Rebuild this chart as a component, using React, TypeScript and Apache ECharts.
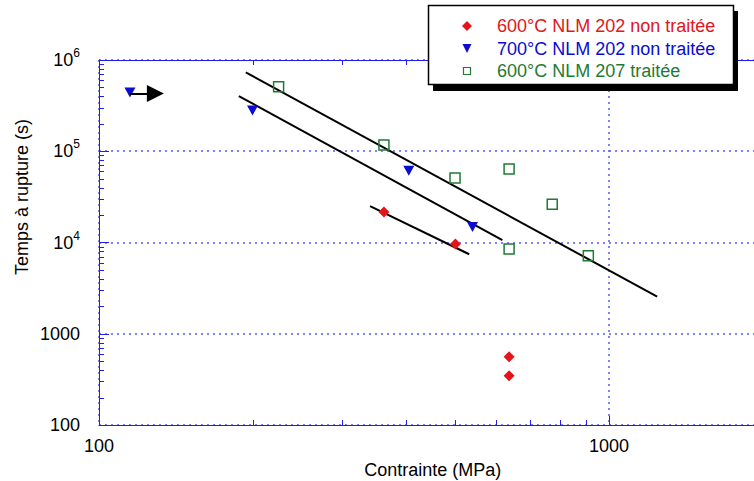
import React, { useEffect, useRef } from "react";
import * as echarts from "echarts";

// ---- data ----
const seriesNames = [
  "600°C NLM 202 non traitée",
  "700°C NLM 202 non traitée",
  "600°C NLM 207 traitée",
];
// [contrainte MPa, temps à rupture s]
const red600NLM202 = [
  [362, 21600],
  [500, 9600],
  [637, 560],
  [637, 347],
];
const blue700NLM202 = [
  [115, 440000],
  [200, 280000],
  [405, 61200],
  [540, 14800],
];
const green600NLM207 = [
  [225, 510000],
  [362, 117000],
  [499, 50900],
  [637, 63900],
  [637, 8490],
  [774, 26200],
  [911, 7170],
];
const fitGreen = [
  [194, 733000],
  [1243, 2550],
];
const fitBlue = [
  [188, 403000],
  [618, 10650],
];
const fitRed = [
  [340, 25100],
  [532, 7430],
];
const arrowSeg = [
  [115, 430000],
  [129, 430000],
];
const xMinorTicks = [200, 300, 400, 500, 600, 700, 800, 900];
const yMinorTicks = [
  200, 300, 400, 500, 600, 700, 800, 900,
  2000, 3000, 4000, 5000, 6000, 7000, 8000, 9000,
  20000, 30000, 40000, 50000, 60000, 70000, 80000, 90000,
  200000, 300000, 400000, 500000, 600000, 700000, 800000, 900000,
];
const X_MIN = 100;
const X_MAX = 2000;
const Y_MIN = 100;
const Y_MAX = 1000000;

const FONT = "Liberation Sans, Arial, sans-serif";
const AXIS = "#1e1ef0";
const GRIDC = "#5a5af5";
const RED = "#e3151a";
const BLUE = "#0b0bd2";
const GREEN = "#1f7a33";
const legendColors = [RED, BLUE, GREEN];

export default function App() {
  const ref = useRef<HTMLDivElement>(null);

  useEffect(() => {
    document.body.style.margin = "0";
    if (!ref.current) return;
    const chart = echarts.init(ref.current, undefined, { renderer: "svg" });

    const minorX = {
      type: "custom",
      coordinateSystem: "cartesian2d",
      silent: true,
      clip: false,
      z: 5,
      data: xMinorTicks.map((v) => [v, Y_MIN]),
      renderItem: (_p: any, api: any) => {
        const x = api.value(0);
        const b = api.coord([x, Y_MIN]);
        const t = api.coord([x, Y_MAX]);
        const px = Math.round(b[0]) + 0.5;
        return {
          type: "group",
          children: [
            { type: "line", shape: { x1: px, y1: b[1], x2: px, y2: b[1] - 5 }, style: { stroke: AXIS, lineWidth: 1 } },
            { type: "line", shape: { x1: px, y1: t[1], x2: px, y2: t[1] + 5 }, style: { stroke: AXIS, lineWidth: 1 } },
          ],
        };
      },
    };
    const minorY = {
      type: "custom",
      coordinateSystem: "cartesian2d",
      silent: true,
      clip: false,
      z: 5,
      data: yMinorTicks.map((v) => [X_MIN, v]),
      renderItem: (_p: any, api: any) => {
        const y = api.value(1);
        const l = api.coord([X_MIN, y]);
        const py = Math.round(l[1]) + 0.5;
        return {
          type: "line",
          shape: { x1: l[0], y1: py, x2: l[0] + 5, y2: py },
          style: { stroke: AXIS, lineWidth: 1 },
        };
      },
    };

    const fitLine = (data: number[][], extra: any = {}) => ({
      type: "line",
      data,
      symbol: "none",
      silent: true,
      lineStyle: { color: "#000", width: 2 },
      z: 3,
      ...extra,
    });

    const legendRows = [26, 48.5, 71];
    const textX = 497;
    const iconX = 467;

    const option: any = {
      animation: false,
      grid: {
        left: 99,
        top: 60,
        width: 663.5,
        height: 365,
        containLabel: false,
        outerBoundsMode: "none",
      },
      xAxis: [
        {
          type: "log",
          logBase: 10,
          min: X_MIN,
          max: X_MAX,
          position: "bottom",
          name: "Contrainte (MPa)",
          nameLocation: "middle",
          nameGap: 36,
          nameTextStyle: { fontFamily: FONT, fontSize: 18, color: "#000", padding: [0, 0, 0, 4] },
          axisLine: { show: true, lineStyle: { color: AXIS, width: 1 } },
          axisTick: { show: true, inside: true, length: 9, lineStyle: { color: AXIS } },
          axisLabel: {
            margin: 12,
            fontFamily: FONT,
            fontSize: 18,
            color: "#000",
            showMaxLabel: false,
            hideOverlap: false,
            formatter: (v: number) => String(Math.round(v)),
          },
          splitLine: { show: true, lineStyle: { color: GRIDC, width: 1.5, type: [2, 4] } },
        },
        {
          type: "log",
          logBase: 10,
          min: X_MIN,
          max: X_MAX,
          position: "top",
          axisLine: { show: true, lineStyle: { color: AXIS, width: 1 } },
          axisTick: { show: true, inside: true, length: 9, lineStyle: { color: AXIS } },
          axisLabel: { show: false },
          splitLine: { show: false },
        },
      ],
      yAxis: {
        type: "log",
        logBase: 10,
        min: Y_MIN,
        max: Y_MAX,
        axisLine: { show: true, lineStyle: { color: AXIS, width: 1 } },
        axisTick: { show: true, inside: true, length: 10, lineStyle: { color: AXIS } },
        axisLabel: {
          margin: 19,
          fontFamily: FONT,
          fontSize: 18,
          color: "#000",
          formatter: (v: number) => {
            const e = Math.round(Math.log10(v));
            return e >= 4 ? `{b|10}{s|${e}}` : `{n|${Math.round(v)}}`;
          },
          rich: {
            n: { fontFamily: FONT, fontSize: 18, color: "#000" },
            b: { fontFamily: FONT, fontSize: 18, color: "#000", lineHeight: 26 },
            s: { fontFamily: FONT, fontSize: 12, color: "#000", lineHeight: 12, verticalAlign: "top" },
          },
        },
        splitLine: { show: true, lineStyle: { color: GRIDC, width: 1.5, type: [2, 4] } },
      },
      series: [
        fitLine(fitGreen),
        fitLine(fitBlue, {
          markLine: {
            silent: true,
            symbol: ["none", "triangle"],
            symbolSize: [17, 17],
            label: { show: false },
            lineStyle: { color: "#000", width: 2, type: "solid", opacity: 1 },
            data: [[{ coord: arrowSeg[0] }, { coord: arrowSeg[1] }]],
          },
        }),
        fitLine(fitRed),
        {
          name: seriesNames[0],
          type: "scatter",
          data: red600NLM202,
          symbol: "diamond",
          symbolSize: [11, 11],
          itemStyle: { color: RED, opacity: 1 },
          z: 4,
        },
        {
          name: seriesNames[1],
          type: "scatter",
          data: blue700NLM202,
          symbol: "triangle",
          symbolRotate: 180,
          symbolSize: [11, 10],
          itemStyle: { color: BLUE, opacity: 1 },
          z: 4,
        },
        {
          name: seriesNames[2],
          type: "scatter",
          data: green600NLM207,
          symbol: "rect",
          symbolSize: 10,
          itemStyle: { color: "rgba(255,255,255,0)", borderColor: GREEN, borderWidth: 1.5, opacity: 1 },
          z: 4,
        },
        minorX,
        minorY,
      ],
      graphic: [
        {
          type: "text",
          x: 22,
          y: 197,
          rotation: Math.PI / 2,
          z: 50,
          style: {
            text: "Temps à rupture (s)",
            fill: "#000",
            font: `18px ${FONT}`,
            align: "center",
            verticalAlign: "middle",
            textAlign: "center",
            textVerticalAlign: "middle",
          },
        },
        { type: "rect", z: 100, shape: { x: 433, y: 11, width: 305, height: 80 }, style: { fill: "#000" } },
        {
          type: "rect",
          z: 101,
          shape: { x: 428.5, y: 5.5, width: 305, height: 79 },
          style: { fill: "#fff", stroke: "#000", lineWidth: 1.5 },
        },
        {
          type: "polygon",
          z: 102,
          shape: { points: [[iconX, legendRows[0] - 5], [iconX + 5, legendRows[0]], [iconX, legendRows[0] + 5], [iconX - 5, legendRows[0]]] },
          style: { fill: RED },
        },
        {
          type: "polygon",
          z: 102,
          shape: { points: [[iconX - 4.5, legendRows[1] - 4.5], [iconX + 4.5, legendRows[1] - 4.5], [iconX, legendRows[1] + 4.5]] },
          style: { fill: BLUE },
        },
        {
          type: "rect",
          z: 102,
          shape: { x: iconX - 3.5, y: legendRows[2] - 3.5, width: 7, height: 7 },
          style: { fill: "#fff", stroke: GREEN, lineWidth: 1.2 },
        },
        ...seriesNames.map((n, i) => ({
          type: "text",
          z: 102,
          x: textX,
          y: legendRows[i],
          style: {
            text: n,
            fill: legendColors[i],
            font: `18px ${FONT}`,
            align: "left",
            verticalAlign: "middle",
            textAlign: "left",
            textVerticalAlign: "middle",
          },
        })),
      ],
    };

    chart.setOption(option);
    return () => chart.dispose();
  }, []);

  return (
    <div
      ref={ref}
      style={{ position: "absolute", left: 0, top: 0, width: 754, height: 481, background: "#fff" }}
    />
  );
}
